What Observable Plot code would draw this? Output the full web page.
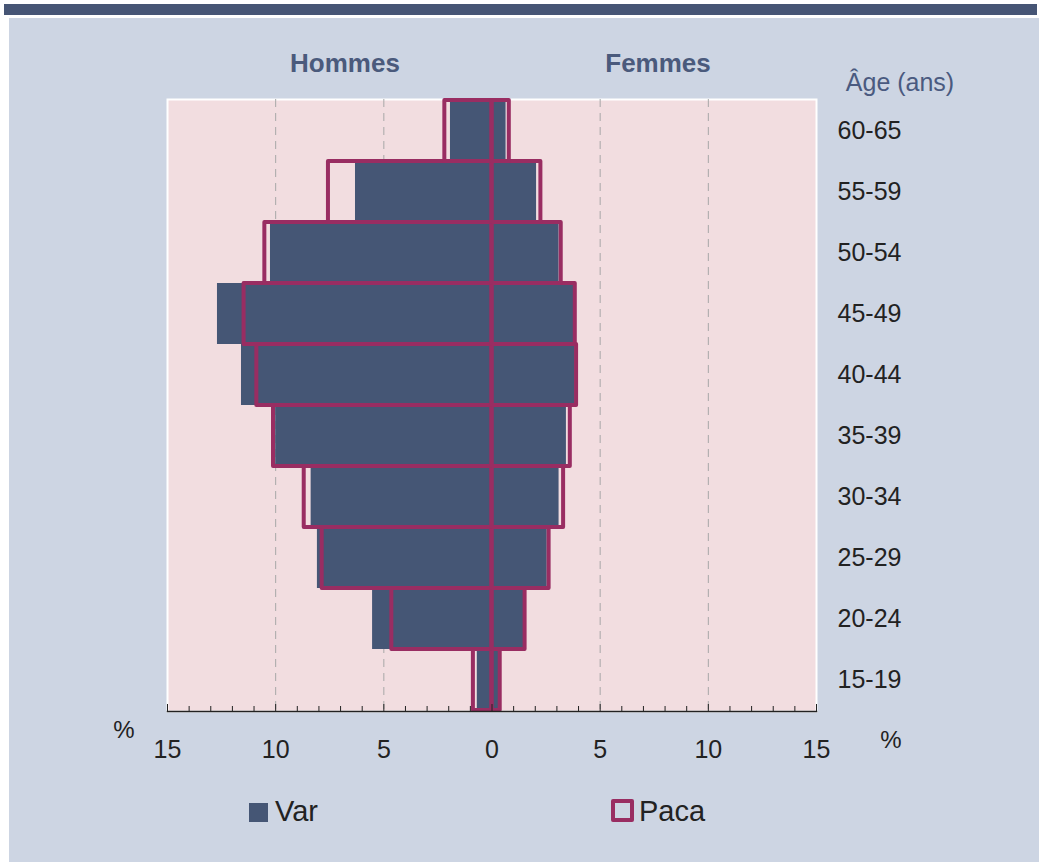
<!DOCTYPE html>
<html><head><meta charset="utf-8">
<script src="https://cdn.jsdelivr.net/npm/d3@7"></script>
<script src="https://cdn.jsdelivr.net/npm/@observablehq/plot@0.6"></script>
<style>
body{margin:0;background:#fff;font-family:"Liberation Sans",Arial,sans-serif;}
#wrap{position:relative;width:1039px;height:862px;overflow:hidden;}
#topbar{position:absolute;left:4px;top:4px;width:1033px;height:11px;background:#465575;}
#panel{position:absolute;left:9px;top:18px;right:0;bottom:0;background:#cdd5e3;}
#chart{position:absolute;left:0;top:0;}
.lbl{position:absolute;white-space:nowrap;line-height:1;}
.hdr{font-weight:bold;color:#4a5a7c;font-size:26px;transform:translateX(-50%);}
</style></head><body>
<div id="wrap">
  <div id="topbar"></div>
  <div id="panel"></div>
  <div id="chart"></div>
  <div class="lbl hdr" style="left:345px;top:50px;">Hommes</div>
  <div class="lbl hdr" style="left:658px;top:50px;">Femmes</div>
  <div class="lbl" style="left:900px;top:70px;font-size:25px;color:#4a5a80;transform:translateX(-50%);">Âge (ans)</div>
  <div class="lbl" style="left:124px;top:718px;font-size:24px;color:#222;transform:translateX(-50%);">%</div>
  <div class="lbl" style="left:891px;top:728px;font-size:24px;color:#222;transform:translateX(-50%);">%</div>
  <div class="lbl" style="left:249px;top:803px;width:19px;height:19px;background:#455675;"></div>
  <div class="lbl" style="left:275px;top:797px;font-size:29px;color:#222;">Var</div>
  <div class="lbl" style="left:611px;top:799px;width:15px;height:15px;border:4px solid #992d62;border-radius:2px;"></div>
  <div class="lbl" style="left:639px;top:797px;font-size:29px;color:#222;">Paca</div>
</div>
<script>
const ages = ["15-19","20-24","25-29","30-34","35-39","40-44","45-49","50-54","55-59","60-65"];
const varHommes  = [0.68, 5.52, 8.07, 8.36, 10.0, 11.58, 12.69, 10.24, 6.31, 1.92];
const varFemmes  = [0.30, 1.50, 2.55, 3.10, 3.44, 3.85, 3.80, 3.10, 2.06, 0.65];
const pacaHommes = [0.86, 4.63, 7.85, 8.68, 10.1, 10.87, 11.46, 10.5, 7.56, 2.18];
const pacaFemmes = [0.38, 1.53, 2.64, 3.31, 3.62, 3.91, 3.85, 3.20, 2.26, 0.80];
const xTicks = [-15, -10, -5, 0, 5, 10, 15];
const gridTicks = [-10, -5, 5, 10];

const rows = [];
ages.forEach((a, i) => {
  rows.push({age: a, sexe: "Hommes", var: -varHommes[i], paca: -pacaHommes[i]});
  rows.push({age: a, sexe: "Femmes", var: varFemmes[i], paca: pacaFemmes[i]});
});

const W = 1039, H = 862, mT = 99, mB = 151, mL = 167, mR = 223;
const frameH = H - mT - mB;
const minor = d3.range(-15, 16).filter(d => d % 5 !== 0);

const chart = Plot.plot({
  width: W, height: H,
  marginLeft: mL, marginRight: mR, marginTop: mT, marginBottom: mB,
  style: {background: "transparent", fontFamily: "'Liberation Sans', Arial, sans-serif", color: "#222", overflow: "visible"},
  x: {domain: [-15, 15]},
  y: {domain: ages.slice().reverse(), padding: 0},
  marks: [
    Plot.frame({fill: "#f2dde0", stroke: "#fff", strokeWidth: 2}),
    Plot.ruleX(gridTicks, {stroke: "#a8a8a8", strokeDasharray: "8,6", strokeWidth: 1}),
    Plot.barX(rows, {x1: 0, x2: "var", y: "age", fill: "#455675", inset: 0}),
    Plot.barX(rows, {x1: 0, x2: "paca", y: "age", fill: "none", stroke: "#992d62", strokeWidth: 4, strokeLinejoin: "round", inset: 0}),
    Plot.frame({anchor: "bottom", stroke: "#222", strokeWidth: 1.5}),
    Plot.tickX(minor, {x: d => d, stroke: "#222", insetTop: frameH - 5}),
    Plot.tickX(xTicks, {x: d => d, stroke: "#222", insetTop: frameH - 7}),
    Plot.axisX({ticks: xTicks, tickFormat: d => Math.abs(d), tickSize: 0, tickPadding: 29, fontSize: 25, label: null}),
    Plot.axisY({anchor: "right", tickSize: 0, tickPadding: 21, fontSize: 25, label: null})
  ]
});
document.getElementById("chart").appendChild(chart);
</script>
</body></html>
